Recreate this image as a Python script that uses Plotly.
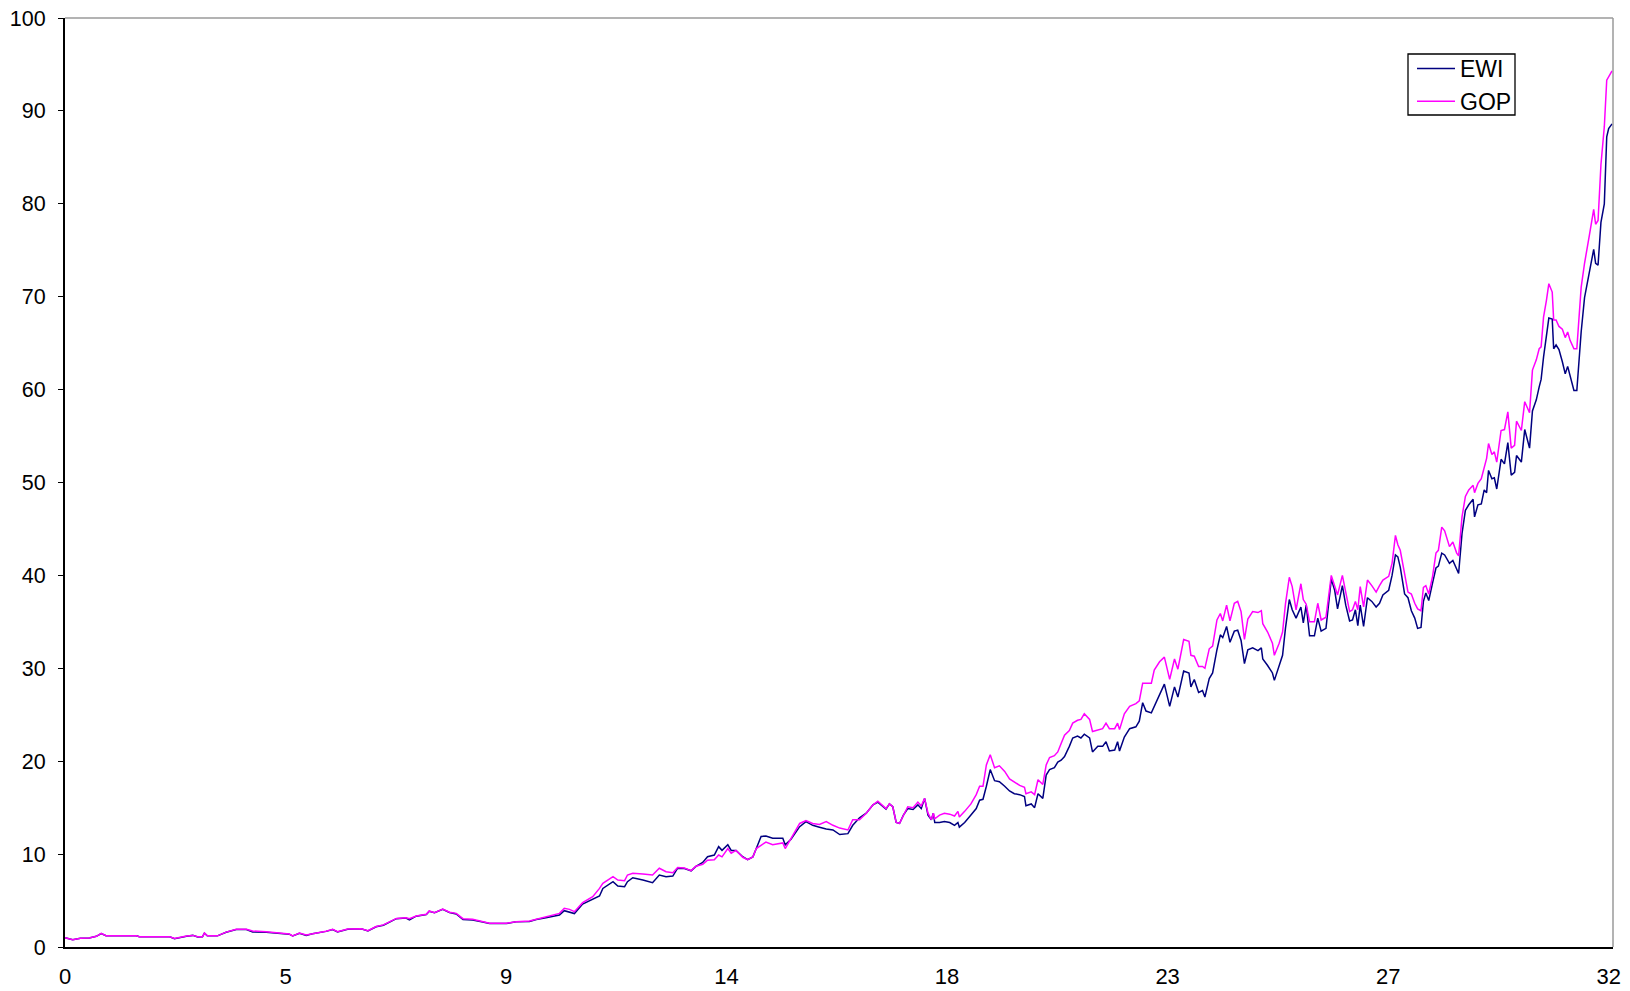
import plotly.graph_objects as go

# Time in years and wealth of the two portfolios
years = [
    0.00, 0.16, 0.32, 0.50, 0.65, 0.75, 0.85, 1.10, 1.48, 1.54, 2.17, 2.27, 2.37, 2.52, 2.65, 2.75,
    2.85, 2.89, 2.95, 3.16, 3.34, 3.55, 3.76, 3.89, 4.17, 4.45, 4.65, 4.72, 4.86, 5.00, 5.13, 5.41,
    5.55, 5.65, 5.86, 6.14, 6.28, 6.45, 6.60, 6.87, 7.07, 7.14, 7.28, 7.49, 7.55, 7.66, 7.83, 7.97,
    8.11, 8.25, 8.45, 8.66, 8.80, 9.15, 9.35, 9.63, 9.77, 9.97, 10.25, 10.35, 10.46, 10.56, 10.73, 10.94,
    11.00, 11.08, 11.15, 11.36, 11.46, 11.60, 11.66, 11.77, 11.98, 12.18, 12.32, 12.46, 12.60, 12.70, 12.84, 12.98,
    13.08, 13.22, 13.32, 13.46, 13.55, 13.62, 13.74, 13.81, 13.91, 14.05, 14.15, 14.26, 14.33, 14.43, 14.53, 14.67,
    14.88, 14.93, 15.05, 15.23, 15.36, 15.50, 15.64, 15.78, 15.92, 16.06, 16.23, 16.33, 16.47, 16.61, 16.75, 16.85,
    17.02, 17.09, 17.16, 17.23, 17.30, 17.38, 17.47, 17.58, 17.68, 17.75, 17.82, 17.89, 17.96, 18.00, 18.03, 18.13,
    18.23, 18.34, 18.44, 18.51, 18.54, 18.65, 18.78, 18.89, 18.96, 19.03, 19.10, 19.18, 19.27, 19.37, 19.48, 19.58,
    19.68, 19.79, 19.89, 19.92, 20.03, 20.10, 20.17, 20.27, 20.34, 20.41, 20.51, 20.58, 20.65, 20.72, 20.82, 20.89,
    20.99, 21.06, 21.13, 21.24, 21.30, 21.41, 21.51, 21.58, 21.65, 21.76, 21.82, 21.86, 21.96, 22.07, 22.20, 22.27,
    22.34, 22.41, 22.52, 22.58, 22.69, 22.79, 22.90, 23.00, 23.07, 23.19, 23.30, 23.34, 23.41, 23.50, 23.58, 23.63,
    23.72, 23.79, 23.88, 23.95, 24.00, 24.08, 24.15, 24.24, 24.31, 24.38, 24.45, 24.52, 24.62, 24.73, 24.80, 24.83,
    24.93, 25.03, 25.07, 25.17, 25.24, 25.30, 25.38, 25.44, 25.52, 25.62, 25.67, 25.73, 25.80, 25.90, 25.97, 26.04,
    26.14, 26.25, 26.32, 26.38, 26.48, 26.55, 26.63, 26.69, 26.75, 26.80, 26.85, 26.92, 27.00, 27.09, 27.18, 27.25,
    27.32, 27.44, 27.51, 27.58, 27.63, 27.68, 27.77, 27.84, 27.91, 27.98, 28.04, 28.11, 28.16, 28.21, 28.27, 28.35,
    28.42, 28.47, 28.54, 28.60, 28.70, 28.77, 28.85, 28.89, 28.96, 29.03, 29.10, 29.19, 29.22, 29.29, 29.36, 29.42,
    29.47, 29.51, 29.58, 29.63, 29.68, 29.77, 29.84, 29.91, 29.98, 30.05, 30.09, 30.19, 30.26, 30.36, 30.42, 30.50,
    30.56, 30.60, 30.65, 30.71, 30.76, 30.83, 30.86, 30.91, 30.97, 31.04, 31.10, 31.15, 31.20, 31.28, 31.34, 31.43,
    31.50, 31.60, 31.69, 31.73, 31.78, 31.84, 31.91, 31.96, 32.00, 32.07,
]

ewi = [
    1.00, 0.78, 0.95, 0.98, 1.15, 1.45, 1.22, 1.20, 1.20, 1.10, 1.10, 0.90, 1.02, 1.15, 1.25, 1.08,
    1.10, 1.48, 1.20, 1.20, 1.58, 1.88, 1.88, 1.62, 1.60, 1.50, 1.38, 1.18, 1.48, 1.25, 1.42, 1.68,
    1.88, 1.62, 1.92, 1.96, 1.72, 2.18, 2.35, 3.05, 3.12, 2.91, 3.32, 3.50, 3.85, 3.68, 4.05, 3.72,
    3.55, 2.95, 2.90, 2.70, 2.52, 2.52, 2.72, 2.75, 2.95, 3.15, 3.44, 3.91, 3.77, 3.60, 4.63, 5.13,
    5.34, 5.49, 6.31, 7.03, 6.56, 6.49, 7.03, 7.46, 7.21, 6.92, 7.75, 7.57, 7.64, 8.48, 8.45, 8.20,
    8.68, 9.10, 9.72, 9.90, 10.80, 10.40, 11.00, 10.40, 10.40, 9.72, 9.40, 9.70, 10.60, 11.90, 11.95, 11.70,
    11.70, 11.00, 11.60, 12.95, 13.50, 13.10, 12.90, 12.70, 12.60, 12.10, 12.20, 13.10, 13.90, 14.40, 15.30, 15.60,
    14.85, 15.40, 15.10, 13.40, 13.30, 14.20, 14.90, 14.80, 15.30, 14.90, 16.00, 14.20, 13.70, 14.40, 13.40, 13.40,
    13.50, 13.40, 13.10, 13.40, 12.90, 13.40, 14.20, 14.90, 15.80, 15.90, 17.30, 19.10, 17.90, 17.80, 17.30, 16.80,
    16.50, 16.40, 16.20, 15.20, 15.40, 15.00, 16.50, 16.00, 18.50, 19.10, 19.30, 19.90, 20.10, 20.50, 21.60, 22.50,
    22.70, 22.50, 22.90, 22.50, 21.00, 21.60, 21.60, 22.10, 21.10, 21.20, 22.10, 21.10, 22.60, 23.50, 23.70, 24.30,
    26.30, 25.40, 25.20, 25.90, 27.10, 28.30, 25.90, 28.00, 26.90, 29.70, 29.50, 28.00, 28.80, 27.40, 27.60, 26.90,
    28.90, 29.50, 32.00, 33.60, 33.30, 34.50, 32.80, 34.00, 34.10, 33.00, 30.50, 32.00, 32.20, 31.90, 32.20, 31.00,
    30.30, 29.50, 28.70, 30.20, 31.40, 34.30, 37.40, 36.30, 35.40, 36.60, 34.90, 36.80, 33.50, 33.50, 35.40, 34.00,
    34.30, 39.60, 38.40, 36.40, 38.90, 36.80, 35.10, 35.20, 36.30, 34.60, 36.80, 34.50, 37.60, 37.20, 36.60, 37.00,
    37.90, 38.40, 40.00, 42.20, 42.00, 40.90, 38.00, 37.60, 36.20, 35.40, 34.30, 34.40, 37.20, 38.10, 37.30, 39.20,
    40.80, 41.00, 42.40, 42.20, 41.30, 41.60, 40.60, 40.20, 44.50, 47.00, 47.60, 48.20, 46.30, 47.60, 47.70, 49.20,
    48.90, 51.30, 50.40, 50.50, 49.30, 52.50, 52.00, 54.30, 50.80, 51.10, 52.90, 52.20, 55.70, 53.70, 57.70, 58.90,
    60.30, 61.10, 63.50, 65.70, 67.70, 67.60, 64.40, 64.80, 64.30, 63.00, 61.70, 62.50, 61.60, 59.90, 59.90, 66.20,
    69.90, 72.50, 75.10, 73.60, 73.40, 78.00, 80.00, 87.20, 88.10, 88.60,
]

gop = [
    1.00, 0.78, 0.95, 0.98, 1.15, 1.47, 1.22, 1.20, 1.20, 1.10, 1.10, 0.92, 1.05, 1.18, 1.25, 1.10,
    1.10, 1.50, 1.20, 1.20, 1.60, 1.90, 1.90, 1.72, 1.65, 1.55, 1.40, 1.20, 1.50, 1.30, 1.42, 1.70,
    1.90, 1.65, 1.94, 1.97, 1.75, 2.20, 2.38, 3.08, 3.15, 3.05, 3.34, 3.52, 3.88, 3.70, 4.09, 3.75,
    3.62, 3.05, 2.98, 2.73, 2.55, 2.55, 2.73, 2.80, 2.98, 3.25, 3.62, 4.16, 4.05, 3.80, 4.77, 5.41,
    5.77, 6.31, 6.85, 7.57, 7.21, 7.14, 7.75, 7.93, 7.86, 7.75, 8.48, 8.11, 8.00, 8.55, 8.50, 8.22,
    8.70, 8.90, 9.35, 9.40, 9.90, 9.70, 10.60, 10.10, 10.40, 9.66, 9.40, 9.70, 10.60, 11.00, 11.30, 11.00,
    11.20, 10.60, 11.70, 13.30, 13.60, 13.30, 13.20, 13.50, 13.10, 12.80, 12.60, 13.70, 13.70, 14.40, 15.30, 15.70,
    14.90, 15.40, 15.10, 13.40, 13.30, 14.20, 15.10, 15.00, 15.60, 15.20, 16.00, 14.40, 13.70, 14.40, 13.80, 14.20,
    14.40, 14.30, 14.10, 14.60, 14.00, 14.60, 15.40, 16.40, 17.30, 17.30, 19.60, 20.70, 19.30, 19.50, 18.90, 18.10,
    17.80, 17.40, 17.20, 16.50, 16.70, 16.40, 18.00, 17.50, 19.60, 20.40, 20.60, 21.00, 21.90, 22.80, 23.30, 24.10,
    24.40, 24.50, 25.10, 24.50, 23.20, 23.40, 23.50, 24.10, 23.50, 23.50, 24.10, 23.40, 25.10, 25.90, 26.20, 26.50,
    28.40, 28.40, 28.40, 29.80, 30.70, 31.20, 28.80, 31.00, 29.90, 33.10, 32.90, 31.40, 31.30, 30.20, 30.20, 30.00,
    32.10, 32.40, 35.20, 35.90, 35.10, 36.80, 35.10, 37.00, 37.20, 36.10, 33.10, 35.30, 36.10, 36.00, 36.20, 34.80,
    33.90, 32.70, 31.40, 32.70, 33.90, 36.90, 39.80, 38.80, 36.30, 39.10, 37.40, 36.90, 35.00, 35.00, 37.00, 35.20,
    35.50, 40.00, 38.90, 37.90, 40.00, 38.00, 36.10, 36.30, 37.20, 36.30, 38.80, 36.60, 39.50, 38.90, 38.20, 38.90,
    39.50, 39.90, 41.30, 44.30, 43.30, 42.70, 39.90, 38.20, 38.00, 37.00, 36.40, 36.20, 38.70, 38.90, 38.00, 39.90,
    42.40, 42.70, 45.20, 44.80, 43.10, 43.60, 42.40, 42.10, 46.30, 48.50, 49.20, 49.70, 48.90, 49.90, 50.40, 51.70,
    52.60, 54.20, 53.00, 53.30, 52.20, 55.60, 55.70, 57.60, 53.70, 54.00, 56.60, 55.60, 58.70, 57.50, 62.10, 63.20,
    64.40, 64.60, 67.80, 69.60, 71.40, 70.50, 67.50, 67.50, 66.80, 66.50, 65.60, 66.20, 65.30, 64.40, 64.40, 71.00,
    73.60, 76.60, 79.40, 77.80, 78.20, 84.20, 88.30, 93.30, 93.70, 94.30,
]

# Horizontal axis labels, placed at equal steps across the 32-year span
x_tick_labels = ["0", "5", "9", "14", "18", "23", "27", "32"]
x_tick_step = 32 / 7

FONT = "Liberation Sans, Arial, Helvetica, sans-serif"

# Figure geometry (pixels)
W, H = 1630, 991
ML, MR, MT, MB = 65, 17, 18, 44
PW, PH = W - ML - MR, H - MT - MB


def px_to_paper(xp, yp):
    """Convert a pixel position on the page to paper coordinates."""
    return (xp - ML) / PW, 1 - (yp - MT) / PH


fig = go.Figure()
fig.add_trace(go.Scatter(
    x=years, y=ewi, name="EWI", mode="lines",
    line=dict(color="#000080", width=1.5),
))
fig.add_trace(go.Scatter(
    x=years, y=gop, name="GOP", mode="lines",
    line=dict(color="#FF00FF", width=1.5),
))

# Legend frame drawn as a rectangle; the legend itself is transparent
bx0, by1 = px_to_paper(1408, 54)
bx1, by0 = px_to_paper(1515, 115)
lx, ly = px_to_paper(1412, 47)

fig.update_layout(
    width=W, height=H,
    margin=dict(l=ML, r=MR, t=MT, b=MB),
    paper_bgcolor="white", plot_bgcolor="white",
    font=dict(family=FONT, color="black"),
    showlegend=True,
    legend=dict(
        x=lx, y=ly, xanchor="left", yanchor="top",
        bgcolor="rgba(0,0,0,0)", borderwidth=0,
        font=dict(family=FONT, size=23, color="black"),
        tracegroupgap=0, itemwidth=38,
    ),
    shapes=[
        dict(type="line", xref="paper", yref="paper", x0=0, x1=1, y0=1, y1=1,
             line=dict(color="#9a9a9a", width=1.5)),
        dict(type="line", xref="paper", yref="paper", x0=1, x1=1, y0=0, y1=1,
             line=dict(color="#9a9a9a", width=1.5)),
        dict(type="rect", xref="paper", yref="paper", x0=bx0, x1=bx1, y0=by0, y1=by1,
             fillcolor="white", line=dict(color="black", width=1.3), layer="above"),
    ],
)

fig.update_xaxes(
    range=[0, 32.09],
    tickmode="array",
    tickvals=[i * x_tick_step for i in range(len(x_tick_labels))],
    ticktext=x_tick_labels,
    ticks="",
    showgrid=False, zeroline=False,
    showline=True, linecolor="black", linewidth=2,
    tickfont=dict(family=FONT, size=22, color="black"),
    ticklabelstandoff=9,
    automargin=False,
)
fig.update_yaxes(
    range=[0, 100],
    tickmode="linear", tick0=0, dtick=10,
    ticks="outside", ticklen=5, tickwidth=1.3, tickcolor="black",
    showgrid=False, zeroline=False,
    showline=True, linecolor="black", linewidth=2,
    tickfont=dict(family=FONT, size=21.5, color="black"),
    ticklabelstandoff=8,
    automargin=False,
)

fig.write_html("out.html")
